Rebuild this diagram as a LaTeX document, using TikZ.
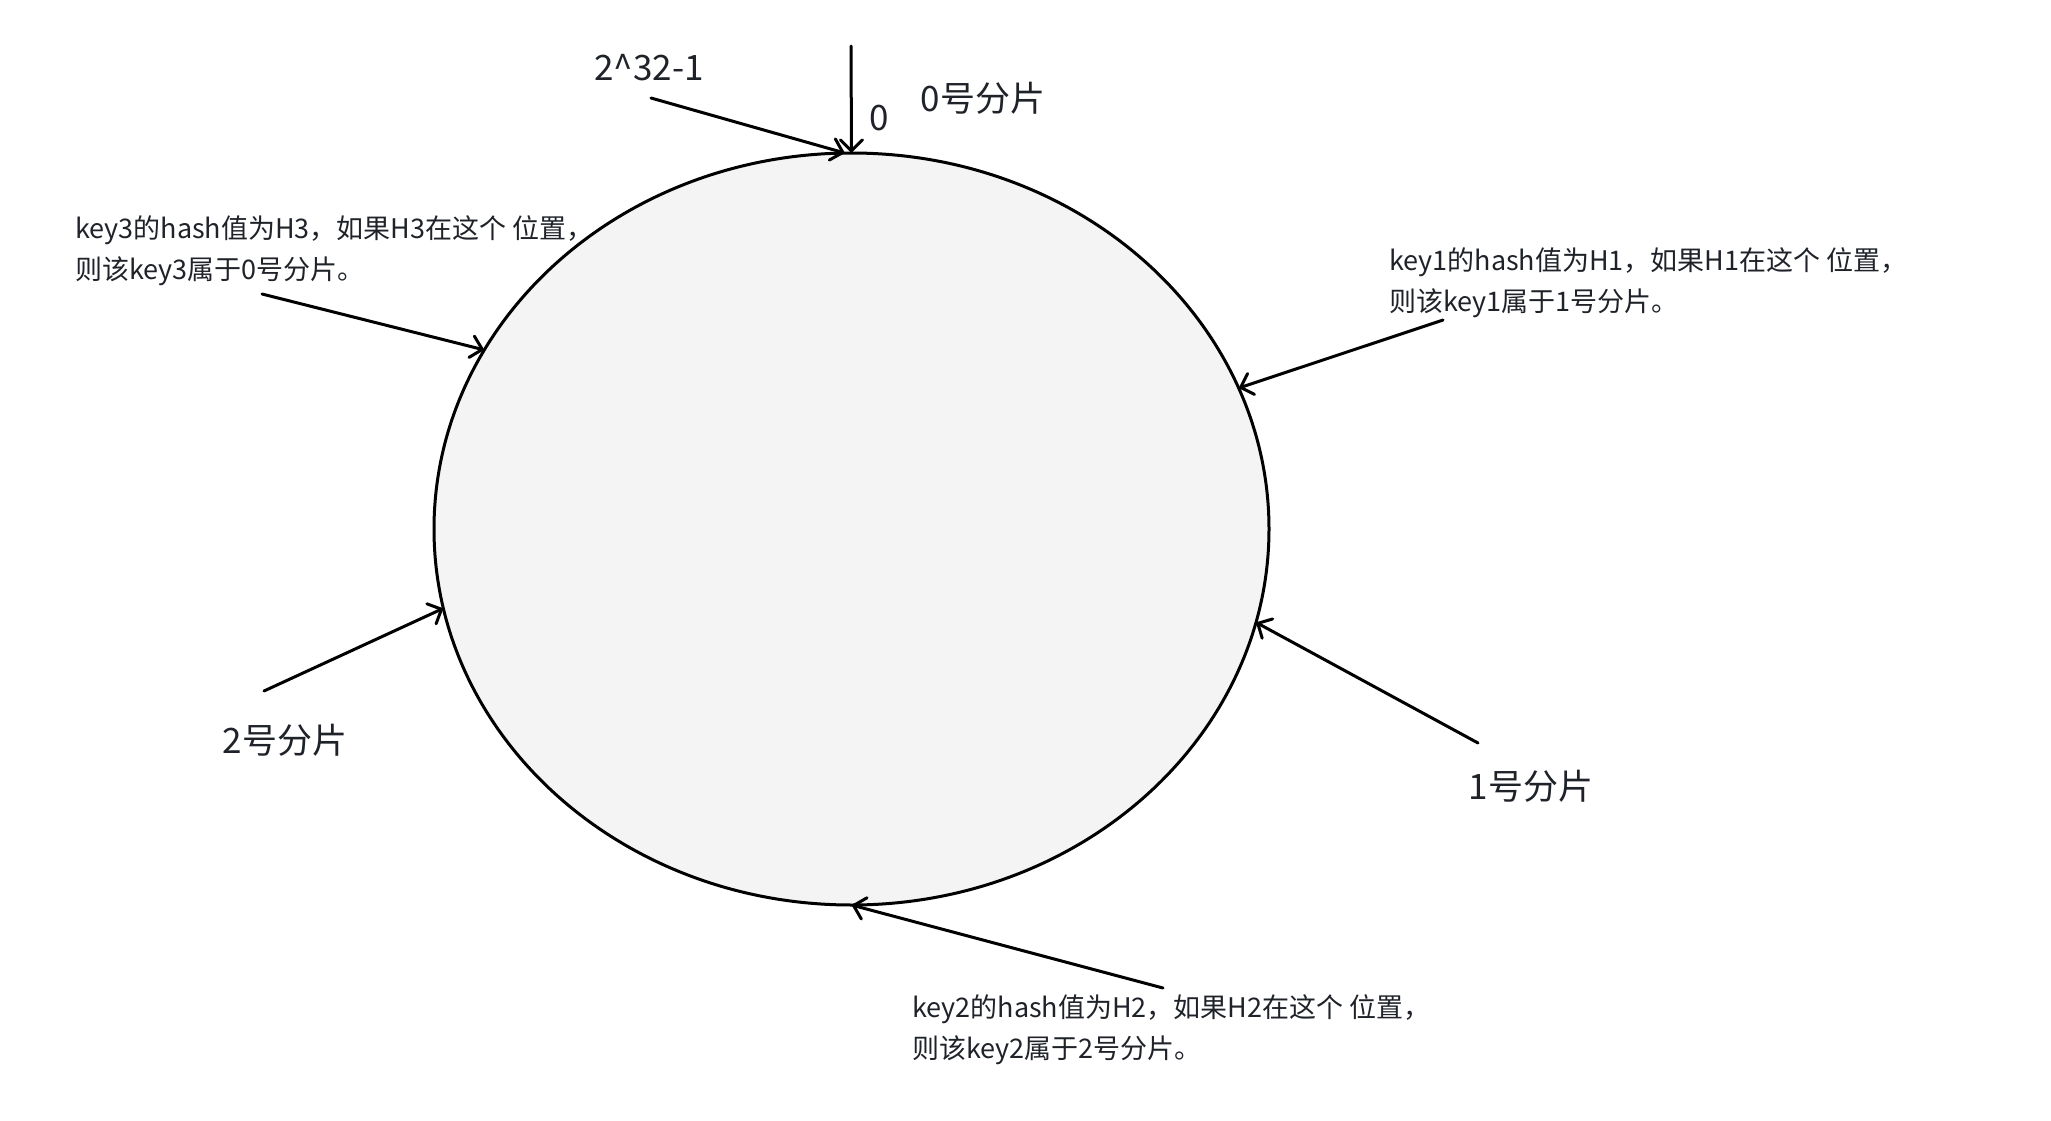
\documentclass[tikz,border=0pt]{standalone}
\usepackage{fontspec}
\setmainfont{Noto Sans CJK SC}
\usepackage{tikz}
\usetikzlibrary{arrows.meta}
\usetikzlibrary{shapes.geometric}
\definecolor{inkgray}{RGB}{31,35,41}
\definecolor{ringfill}{RGB}{244,244,244}
\tikzset{
    ring/.style={
        draw=black,
        ellipse,
        fill=ringfill,
        line width=3pt,
        minimum width=835pt,
        minimum height=752pt,
        inner sep=0pt,
        outer sep=0pt
    },
    shard/.style={
        text=inkgray,
        inner sep=0pt,
        font=\fontsize{35}{40}\selectfont
    },
    note/.style={
        text=inkgray,
        inner sep=0pt,
        anchor=west,
        align=left,
        font=\fontsize{27}{41}\selectfont
    },
    pointer/.style={
        draw=black,
        line width=3pt,
        line cap=round,
        -{Straight Barb[length=11pt, width=22pt, line cap=round]}
    }
}

\begin{document}
\begin{tikzpicture}[x=1pt, y=-1pt]
    \useasboundingbox (0,0) rectangle (2051,1121);

    % The hash ring
    \node[ring] (R) at (851.5,529) {};

    % Start of the ring: 0 and 2^32-1
    \node[shard] (maxval) at (649,68) {2\textasciicircum32-1};
    \node[shard] (zero) at (879,118) {0};
    \node[shard] (S0) at (983,98) {0号分片};
    \coordinate (maxfrom) at (651,98);
    \coordinate (zerofrom) at (851,46);
    \draw[pointer] (zerofrom) -- (R.north);
    \draw[pointer] (maxfrom) -- (R.91);

    % Shards on the ring
    \node[shard] (S1) at (1531,786) {1号分片};
    \node[shard] (S2) at (285,740) {2号分片};
    \coordinate (s1from) at (1478,743);
    \coordinate (s2from) at (264,691);
    \draw[pointer] (s1from) -- (R.347.8);
    \draw[pointer] (s2from) -- (R.191.3);

    % Keys and where their hash values fall
    \node[note] (K3) at (75,250.5) {key3的hash值为H3，如果H3在这个 位置，\\则该key3属于0号分片。};
    \node[note] (K1) at (1389,282.5) {key1的hash值为H1，如果H1在这个 位置，\\则该key1属于1号分片。};
    \node[note] (K2) at (912,1029.5) {key2的hash值为H2，如果H2在这个 位置，\\则该key2属于2号分片。};
    \coordinate (k3from) at (262,294);
    \coordinate (k1from) at (1443,320);
    \coordinate (k2from) at (1163,988);
    \draw[pointer] (k3from) -- (R.154.2);
    \draw[pointer] (k1from) -- (R.20.2);
    \draw[pointer] (k2from) -- (R.270.8);
\end{tikzpicture}
\end{document}
